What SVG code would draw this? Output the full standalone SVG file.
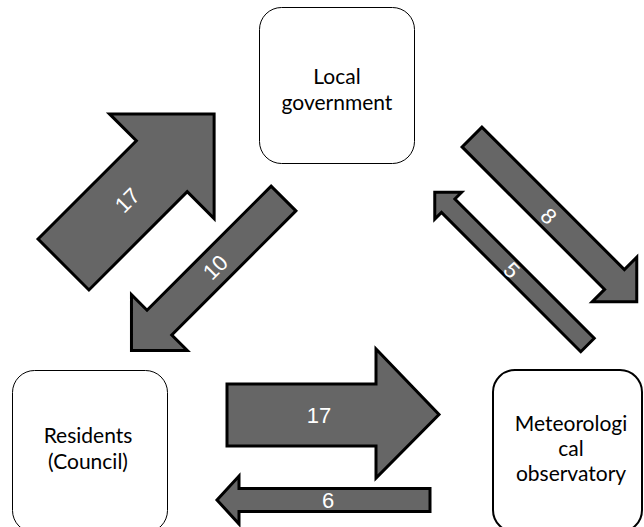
<svg xmlns="http://www.w3.org/2000/svg" width="644" height="527" viewBox="0 0 644 527">
<style>
.box{fill:#fff;stroke:#000;stroke-width:1}
.box2{fill:#fff;stroke:#000;stroke-width:2}
.nt{font-family:Lato,"Noto Sans",sans-serif;font-size:21px;fill:#000;text-anchor:middle}
.arr{fill:#666;stroke:#000;stroke-width:3;stroke-linejoin:miter}
.lb{font-family:"Liberation Sans",Arial,sans-serif;font-size:22px;fill:#fff;text-anchor:middle}
</style>
<rect width="644" height="527" fill="#fff"/>
<g id="local-government">
<rect class="box" x="259.5" y="7.5" width="155" height="156" rx="22"/>
<text class="nt" x="337" y="84">Local</text>
<text class="nt" x="337" y="110">government</text>
</g>
<g id="residents">
<rect class="box" x="12.5" y="370.5" width="155" height="162" rx="22"/>
<text class="nt" x="88" y="443">Residents</text>
<text class="nt" x="88" y="469">(Council)</text>
</g>
<g id="meteorological-observatory">
<rect class="box2" x="493" y="370" width="149" height="162" rx="22"/>
<text class="nt" x="571" y="431">Meteorologi</text>
<text class="nt" x="571" y="456">cal</text>
<text class="nt" x="571" y="481">observatory</text>
</g>
<g id="connectors">
<g id="res-to-gov">
<path class="arr" transform="translate(63.5,264.5) rotate(-45)" d="M0,-36 L139,-36 L139,-74 L213,0 L139,74 L139,36 L0,36 Z"/>
<text class="lb" transform="translate(127,200) rotate(-45)" y="8">17</text>
</g>
<g id="gov-to-res">
<path class="arr" transform="translate(283.5,198.5) rotate(135)" d="M0,-17.5 L175.5,-17.5 L175.5,-39.5 L215,0 L175.5,39.5 L175.5,17.5 L0,17.5 Z"/>
<text class="lb" transform="translate(215,267) rotate(-45)" y="8">10</text>
</g>
<g id="gov-to-met">
<path class="arr" transform="translate(472,137) rotate(45)" d="M0,-14 L201.5,-14 L201.5,-31.5 L233,0 L201.5,31.5 L201.5,14 L0,14 Z"/>
<text class="lb" transform="translate(549,216) rotate(45)" y="8">8</text>
</g>
<g id="met-to-gov">
<path class="arr" transform="translate(587.5,345) rotate(225)" d="M0,-9.5 L197,-9.5 L197,-19 L216,0 L197,19 L197,9.5 L0,9.5 Z"/>
<text class="lb" transform="translate(512,270) rotate(45)" y="8">5</text>
</g>
<g id="res-to-met">
<path class="arr" d="M227,384 L376,384 L376,349 L439,414.5 L376,478 L376,446 L227,446 Z"/>
<text class="lb" x="319" y="423">17</text>
</g>
<g id="met-to-res">
<path class="arr" d="M430,488.5 L239,488.5 L239,476 L217,500 L239,524 L239,511.5 L430,511.5 Z"/>
<text class="lb" x="328" y="508">6</text>
</g>
</g>
</svg>
